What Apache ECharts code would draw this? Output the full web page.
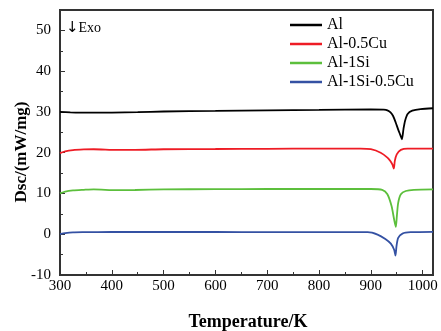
<!DOCTYPE html>
<html><head><meta charset="utf-8">
<script src="https://cdn.jsdelivr.net/npm/echarts@6/dist/echarts.min.js"></script>
<style>html,body{margin:0;padding:0;background:#fff}#c{width:441px;height:331px}</style>
</head><body><div id="c"></div>
<script>
const seriesNames = ['Al', 'Al-0.5Cu', 'Al-1Si', 'Al-1Si-0.5Cu'];
const seriesColors = ['#000000', '#ee1c25', '#5cbf3c', '#3451a3'];
const alData = [[300,30.0],[320,29.9],[350,29.82],[400,29.85],[450,29.95],[500,30.1],[600,30.25],[700,30.4],[800,30.5],[900,30.6],[925,30.55],[932,30.4],[938,29.9],[943,29.0],[948,27.4],[953,25.6],[957,24.3],[960,23.3],[963,25.8],[966,27.8],[971,29.5],[980,30.3],[996,30.7],[1020,30.9]];
const alCuData = [[300,19.9],[310,20.35],[325,20.65],[346,20.8],[365,20.85],[410,20.7],[445,20.7],[500,20.85],[600,20.9],[700,20.95],[800,21.0],[880,21.0],[900,20.85],[919,20.0],[932,18.8],[938,17.9],[942,17.0],[944.4,16.1],[946.3,18.0],[950,19.6],[958,20.7],[971,21.0],[1020,21.0]];
const alSiData = [[300,10.0],[310,10.45],[325,10.75],[346,10.9],[365,11.0],[410,10.8],[445,10.85],[500,11.0],[600,11.05],[700,11.1],[800,11.1],[900,11.1],[922,10.9],[932,9.8],[940,6.9],[945,3.6],[948.3,1.8],[950.2,4.4],[952.8,7.7],[958,9.8],[967.5,10.6],[983,10.9],[1020,11.0]];
const alSiCuData = [[300,0.0],[310,0.25],[325,0.45],[346,0.5],[400,0.55],[500,0.55],[600,0.55],[700,0.5],[800,0.5],[894,0.5],[913,-0.08],[928,-1.15],[938.6,-2.3],[945,-3.8],[947.6,-5.25],[949.5,-2.96],[952.8,-0.9],[961,0.16],[977,0.5],[1020,0.6]];
const allData = [alData, alCuData, alSiData, alSiCuData];

const font = 'Liberation Serif';
const chart = echarts.init(document.getElementById('c'));
chart.setOption({
  animation: false,
  textStyle: {fontFamily: font},
  grid: {left: 60, right: 8, top: 10, bottom: 56, outerBoundsMode: 'none', containLabel: false, show: true, borderColor: '#333', borderWidth: 2},
  legend: {
    orient: 'vertical', left: 290, top: 17, padding: 0, itemGap: 3, itemWidth: 32, itemHeight: 2.5, icon: 'rect',
    textStyle: {fontFamily: font, fontSize: 16, color: '#000', padding: [0,0,0,0]},
    data: seriesNames
  },
  graphic: [
    {type: 'text', left: 66, top: 21, style: {
      text: '{a|↓}{b|Exo}', fill: '#000',
      rich: {a: {fontFamily: 'DejaVu Sans', fontSize: 15, fill: '#000'}, b: {fontFamily: font, fontSize: 14, fill: '#000'}}
    }},
    {type: 'text', x: 22, y: 152, rotation: Math.PI / 2, style: {
      text: 'Dsc/(mW/mg)', fontFamily: font, fontSize: 17, fontWeight: 'bold', fill: '#000', align: 'center', verticalAlign: 'middle'
    }},
    {type: 'text', x: 248, y: 322, style: {
      text: 'Temperature/K', fontFamily: font, fontSize: 18, fontWeight: 'bold', fill: '#000', align: 'center', verticalAlign: 'middle'
    }}
  ],
  xAxis: {
    type: 'value', min: 300, max: 1020, interval: 100,
    axisLine: {show: true, onZero: false, lineStyle: {color: '#333', width: 2}},
    axisTick: {show: true, inside: true, length: 5, lineStyle: {color: '#333'}},
    minorTick: {show: true, splitNumber: 2, length: 3, lineStyle: {color: '#333'}},
    splitLine: {show: false},
    axisLabel: {fontFamily: font, fontSize: 15, color: '#000', margin: 4, showMaxLabel: false, formatter: v => String(v)}
  },
  yAxis: {
    type: 'value', min: -10, max: 55, interval: 10,
    axisLine: {show: true, onZero: false, lineStyle: {color: '#333', width: 2}},
    axisTick: {show: true, inside: true, length: 5, lineStyle: {color: '#333'}},
    minorTick: {show: true, splitNumber: 2, length: 3, lineStyle: {color: '#333'}},
    splitLine: {show: false},
    axisLabel: {fontFamily: font, fontSize: 15, color: '#000', margin: 9, showMaxLabel: false, formatter: v => String(v)}
  },
  series: seriesNames.map((n, i) => ({
    name: n, type: 'line', data: allData[i], symbol: 'none', smooth: 0.25,
    lineStyle: {color: seriesColors[i], width: 1.8}, itemStyle: {color: seriesColors[i]}
  }))
});
</script></body></html>
